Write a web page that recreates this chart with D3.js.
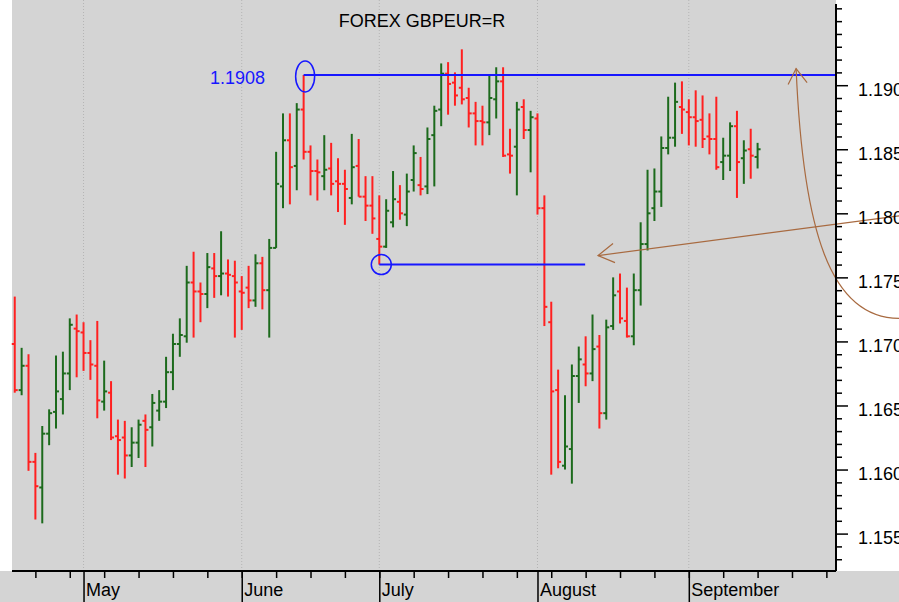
<!DOCTYPE html>
<html>
<head>
<meta charset="utf-8">
<script src="https://cdn.jsdelivr.net/npm/d3@7"></script>
<style>
  body { margin: 0; background: #fff; }
  svg { display: block; font-family: "Liberation Sans", Arial, sans-serif; }
</style>
</head>
<body>
<svg id="chart" width="899" height="602"></svg>
<script>
// daily OHLC bars, index 0 = first bar on the left
const opens = [
  1.1698, 1.1662, 1.1681, 1.1606, 1.1586, 1.1628, 1.1645, 1.1655, 1.1675, 1.1710,
  1.1707, 1.1691, 1.1681, 1.1653, 1.1660, 1.1626, 1.1625, 1.1611, 1.1621, 1.1638,
  1.1633, 1.1646, 1.1653, 1.1676, 1.1698, 1.1704, 1.1746, 1.1739, 1.1737, 1.1757,
  1.1751, 1.1753, 1.1751, 1.1739, 1.1742, 1.1732, 1.1761, 1.1740, 1.1773, 1.1821,
  1.1857, 1.1837, 1.1881, 1.1848, 1.1833, 1.1829, 1.1835, 1.1825, 1.1823, 1.1812,
  1.1837, 1.1813, 1.1806, 1.1780, 1.1774, 1.1793, 1.1809, 1.1799, 1.1826, 1.1822,
  1.1821, 1.1861, 1.1881, 1.1909, 1.1902, 1.1898, 1.1890, 1.1878, 1.1872, 1.1871,
  1.1889, 1.1903, 1.1846, 1.1852, 1.1883, 1.1865, 1.1874, 1.1804, 1.1715, 1.1662,
  1.1603, 1.1616, 1.1673, 1.1682, 1.1675, 1.1696, 1.1644, 1.1712, 1.1739, 1.1716,
  1.1704, 1.1740, 1.1776, 1.1804, 1.1817, 1.1851, 1.1859, 1.1883, 1.1879, 1.1875,
  1.1873, 1.1860, 1.1858, 1.1840, 1.1845, 1.1868, 1.1843, 1.1850, 1.1844
];
const highs = [
  1.1735, 1.1695, 1.1690, 1.1613, 1.1634, 1.1647, 1.1689, 1.1692, 1.1718, 1.1721,
  1.1715, 1.1701, 1.1716, 1.1685, 1.1669, 1.1639, 1.1638, 1.1633, 1.1639, 1.1643,
  1.1659, 1.1662, 1.1688, 1.1706, 1.1718, 1.1759, 1.1770, 1.1746, 1.1769, 1.1769,
  1.1786, 1.1764, 1.1763, 1.1751, 1.1759, 1.1768, 1.1766, 1.1780, 1.1848, 1.1878,
  1.1878, 1.1886, 1.1908, 1.1853, 1.1842, 1.1861, 1.1855, 1.1843, 1.1834, 1.1862,
  1.1858, 1.1829, 1.1829, 1.1814, 1.1811, 1.1833, 1.1822, 1.1831, 1.1853, 1.1844,
  1.1867, 1.1884, 1.1917, 1.1918, 1.1910, 1.1928, 1.1898, 1.1887, 1.1884, 1.1908,
  1.1914, 1.1914, 1.1866, 1.1887, 1.1889, 1.1880, 1.1878, 1.1814, 1.1731, 1.1678,
  1.1658, 1.1682, 1.1696, 1.1704, 1.1721, 1.1705, 1.1717, 1.1750, 1.1753, 1.1742,
  1.1753, 1.1793, 1.1834, 1.1835, 1.1860, 1.1891, 1.1902, 1.1903, 1.1889, 1.1896,
  1.1892, 1.1878, 1.1891, 1.1859, 1.1871, 1.1880, 1.1857, 1.1866, 1.1855
];
const lows = [
  1.1660, 1.1658, 1.1599, 1.1561, 1.1558, 1.1619, 1.1632, 1.1643, 1.1662, 1.1672,
  1.1677, 1.1670, 1.1640, 1.1646, 1.1623, 1.1596, 1.1593, 1.1602, 1.1609, 1.1602,
  1.1618, 1.1638, 1.1648, 1.1662, 1.1688, 1.1699, 1.1703, 1.1715, 1.1726, 1.1734,
  1.1736, 1.1735, 1.1703, 1.1709, 1.1726, 1.1727, 1.1725, 1.1703, 1.1773, 1.1804,
  1.1807, 1.1818, 1.1842, 1.1814, 1.1810, 1.1818, 1.1814, 1.1801, 1.1791, 1.1807,
  1.1813, 1.1794, 1.1784, 1.1760, 1.1773, 1.1789, 1.1795, 1.1790, 1.1817, 1.1814,
  1.1815, 1.1821, 1.1868, 1.1877, 1.1884, 1.1885, 1.1867, 1.1853, 1.1853, 1.1861,
  1.1874, 1.1844, 1.1831, 1.1814, 1.1858, 1.1832, 1.1799, 1.1712, 1.1596, 1.1601,
  1.1600, 1.1589, 1.1652, 1.1665, 1.1669, 1.1632, 1.1639, 1.1709, 1.1714, 1.1703,
  1.1697, 1.1728, 1.1771, 1.1794, 1.1805, 1.1846, 1.1852, 1.1862, 1.1853, 1.1852,
  1.1851, 1.1846, 1.1834, 1.1826, 1.1833, 1.1812, 1.1823, 1.1827, 1.1835
];
const closes = [
  1.1662, 1.1681, 1.1606, 1.1587, 1.1628, 1.1644, 1.1661, 1.1675, 1.1713, 1.1708,
  1.1691, 1.1682, 1.1654, 1.1661, 1.1625, 1.1623, 1.1611, 1.1621, 1.1635, 1.1631,
  1.1652, 1.1653, 1.1676, 1.1698, 1.1705, 1.1746, 1.1739, 1.1737, 1.1758, 1.1751,
  1.1753, 1.1752, 1.1746, 1.1738, 1.1732, 1.1761, 1.1740, 1.1773, 1.1823, 1.1857,
  1.1836, 1.1881, 1.1848, 1.1833, 1.1832, 1.1834, 1.1823, 1.1823, 1.1819, 1.1836,
  1.1813, 1.1806, 1.1796, 1.1774, 1.1802, 1.1811, 1.1800, 1.1817, 1.1847, 1.1819,
  1.1858, 1.1880, 1.1909, 1.1901, 1.1892, 1.1889, 1.1878, 1.1872, 1.1871, 1.1890,
  1.1903, 1.1845, 1.1845, 1.1881, 1.1865, 1.1875, 1.1804, 1.1727, 1.1661, 1.1606,
  1.1618, 1.1673, 1.1686, 1.1675, 1.1694, 1.1644, 1.1711, 1.1736, 1.1718, 1.1704,
  1.1740, 1.1776, 1.1800, 1.1817, 1.1851, 1.1859, 1.1887, 1.1881, 1.1875, 1.1872,
  1.1858, 1.1858, 1.1836, 1.1845, 1.1868, 1.1840, 1.1849, 1.1845, 1.1850
];

// x axis: month starts (bar index) and weekly Monday ticks
const monthNames = ["May", "June", "July", "August", "September"];
const monthStarts = [10, 33, 53, 76, 98];
const weekTicks = [3, 8, 13, 18, 23, 28, 33, 38, 43, 48, 53, 58, 63, 68, 73, 78,
                   83, 88, 93, 98, 103, 108, 113, 118];

// y axis ticks
const priceLabels = [1.155, 1.160, 1.165, 1.170, 1.175, 1.180, 1.185, 1.190];
const priceMinor = [1.153, 1.154, 1.156, 1.157, 1.158, 1.159, 1.161, 1.162, 1.163, 1.164,
  1.166, 1.167, 1.168, 1.169, 1.171, 1.172, 1.173, 1.174, 1.176, 1.177, 1.178, 1.179,
  1.181, 1.182, 1.183, 1.184, 1.186, 1.187, 1.188, 1.189, 1.191, 1.192, 1.193, 1.194,
  1.195, 1.196];

// annotations
const resistance = { level: 1.1908, from: 42, label: "1.1908" };
const support = { level: 1.1760, from: 53, to: 83 };
const straightArrow = [[84.8, 1.1767], [128.6, 1.1798]]; // tip, tail
const curvedArrow = [[113.6, 1.1913], [114.6, 1.1787], [118.5, 1.1718], [128.6, 1.1718]];

const title = "FOREX GBPEUR=R";

const svg = d3.select("#chart");
const width = 899, height = 602;
const plot = { left: 12, right: 836, top: 0, bottom: 571 };

const x = d3.scaleLinear().domain([-0.4, 119.4]).range([plot.left, plot.right]);
const y = d3.scaleLinear().domain([1.155, 1.190]).range([533.6, 85.2]);

const red = "#ff2020", green = "#1c6a1c", blue = "#1717ff", brown = "#a86a40";

// backgrounds
svg.append("rect").attr("width", width).attr("height", height).attr("fill", "#fff");
svg.append("rect")
  .attr("x", plot.left).attr("y", plot.top)
  .attr("width", plot.right - plot.left).attr("height", plot.bottom - plot.top)
  .attr("fill", "#d4d4d4");
svg.append("rect")
  .attr("x", 0).attr("y", plot.bottom)
  .attr("width", width).attr("height", height - plot.bottom)
  .attr("fill", "#d4d4d4");

// dotted month gridlines
svg.append("g").selectAll("line")
  .data(monthStarts)
  .join("line")
  .attr("x1", (d) => x(d)).attr("x2", (d) => x(d))
  .attr("y1", plot.top).attr("y2", plot.bottom)
  .attr("stroke", "#b4b4b4")
  .attr("stroke-dasharray", "1,2");

// title
svg.append("text")
  .attr("x", 422).attr("y", 27)
  .attr("text-anchor", "middle")
  .style("font-size", "18px")
  .text(title);

// OHLC bars
const bars = svg.append("g").selectAll("g")
  .data(opens.map((o, i) => ({ i, o, h: highs[i], l: lows[i], c: closes[i] })))
  .join("g")
  .attr("stroke", (d) => (d.c >= d.o ? green : red))
  .attr("stroke-width", 2);

bars.append("line")
  .attr("x1", (d) => x(d.i)).attr("x2", (d) => x(d.i))
  .attr("y1", (d) => y(d.h)).attr("y2", (d) => y(d.l));
bars.append("line")
  .attr("x1", (d) => x(d.i) - 3).attr("x2", (d) => x(d.i))
  .attr("y1", (d) => y(d.o)).attr("y2", (d) => y(d.o));
bars.append("line")
  .attr("x1", (d) => x(d.i)).attr("x2", (d) => x(d.i) + 3)
  .attr("y1", (d) => y(d.c)).attr("y2", (d) => y(d.c));

// resistance line + circle + label
svg.append("line")
  .attr("x1", x(resistance.from)).attr("x2", plot.right)
  .attr("y1", y(resistance.level)).attr("y2", y(resistance.level))
  .attr("stroke", blue).attr("stroke-width", 2);
svg.append("ellipse")
  .attr("cx", x(resistance.from) + 1.5).attr("cy", y(resistance.level) + 1.5)
  .attr("rx", 9.5).attr("ry", 15.5)
  .attr("fill", "none").attr("stroke", blue).attr("stroke-width", 1.5);
svg.append("text")
  .attr("x", 265).attr("y", y(resistance.level) + 9)
  .attr("text-anchor", "end")
  .attr("fill", blue)
  .style("font-size", "18px")
  .text(resistance.label);

// support line + circle
svg.append("line")
  .attr("x1", x(support.from)).attr("x2", x(support.to) - 0.5)
  .attr("y1", y(support.level)).attr("y2", y(support.level))
  .attr("stroke", blue).attr("stroke-width", 2);
svg.append("circle")
  .attr("cx", x(support.from) + 2).attr("cy", y(support.level))
  .attr("r", 10)
  .attr("fill", "none").attr("stroke", blue).attr("stroke-width", 1.5);

// brown arrows
const tip = [x(straightArrow[0][0]), y(straightArrow[0][1])];
const tail = [x(straightArrow[1][0]), y(straightArrow[1][1])];
svg.append("line")
  .attr("x1", tip[0]).attr("y1", tip[1]).attr("x2", tail[0]).attr("y2", tail[1])
  .attr("stroke", brown).attr("stroke-width", 1.2);
svg.append("path")
  .attr("d", `M${tip[0] + 15},${tip[1] - 12}L${tip[0]},${tip[1]}L${tip[0] + 17},${tip[1] + 7}`)
  .attr("fill", "none").attr("stroke", brown).attr("stroke-width", 1.2);

const cp = curvedArrow.map((p) => [x(p[0]), y(p[1])]);
svg.append("path")
  .attr("d", `M${cp[0]}C${cp[1]} ${cp[2]} ${cp[3]}`)
  .attr("fill", "none").attr("stroke", brown).attr("stroke-width", 1.2);
svg.append("path")
  .attr("d", `M${cp[0][0] - 8},${cp[0][1] + 16}L${cp[0][0]},${cp[0][1]}L${cp[0][0] + 11},${cp[0][1] + 14}`)
  .attr("fill", "none").attr("stroke", brown).attr("stroke-width", 1.2);

// y axis on the right
const yMinor = svg.append("g")
  .attr("transform", `translate(${plot.right},0)`)
  .call(d3.axisRight(y).tickValues(priceMinor).tickSize(6).tickFormat(""));
yMinor.select(".domain").remove();
const yMajor = svg.append("g")
  .attr("transform", `translate(${plot.right},0)`)
  .call(d3.axisRight(y).tickValues(priceLabels).tickSize(12).tickPadding(10)
    .tickFormat(d3.format(".3f")));
yMajor.select(".domain").remove();
yMajor.selectAll("text").style("font-size", "18px").attr("fill", "#000").attr("dy", "0.55em");
svg.selectAll(".tick line").attr("stroke", "#000").attr("stroke-width", 1.5);
svg.append("line")
  .attr("x1", plot.right).attr("x2", plot.right)
  .attr("y1", 4).attr("y2", plot.bottom)
  .attr("stroke", "#000").attr("stroke-width", 2);

// x axis at the bottom
const xWeek = svg.append("g")
  .attr("transform", `translate(0,${plot.bottom})`)
  .call(d3.axisBottom(x).tickValues(weekTicks).tickSize(7).tickFormat(""));
xWeek.select(".domain").remove();
const xMonth = svg.append("g")
  .attr("transform", `translate(0,${plot.bottom})`)
  .call(d3.axisBottom(x).tickValues(monthStarts).tickSize(height - plot.bottom)
    .tickFormat((d, i) => monthNames[i]));
xMonth.select(".domain").remove();
xMonth.selectAll("text")
  .attr("text-anchor", "start")
  .attr("x", 2).attr("y", 25).attr("dy", 0)
  .attr("fill", "#000")
  .style("font-size", "18px");
svg.selectAll("g.tick line").attr("stroke", "#000").attr("stroke-width", 1.5);
svg.append("line")
  .attr("x1", plot.left).attr("x2", plot.right)
  .attr("y1", plot.bottom).attr("y2", plot.bottom)
  .attr("stroke", "#000").attr("stroke-width", 2);
</script>
</body>
</html>
